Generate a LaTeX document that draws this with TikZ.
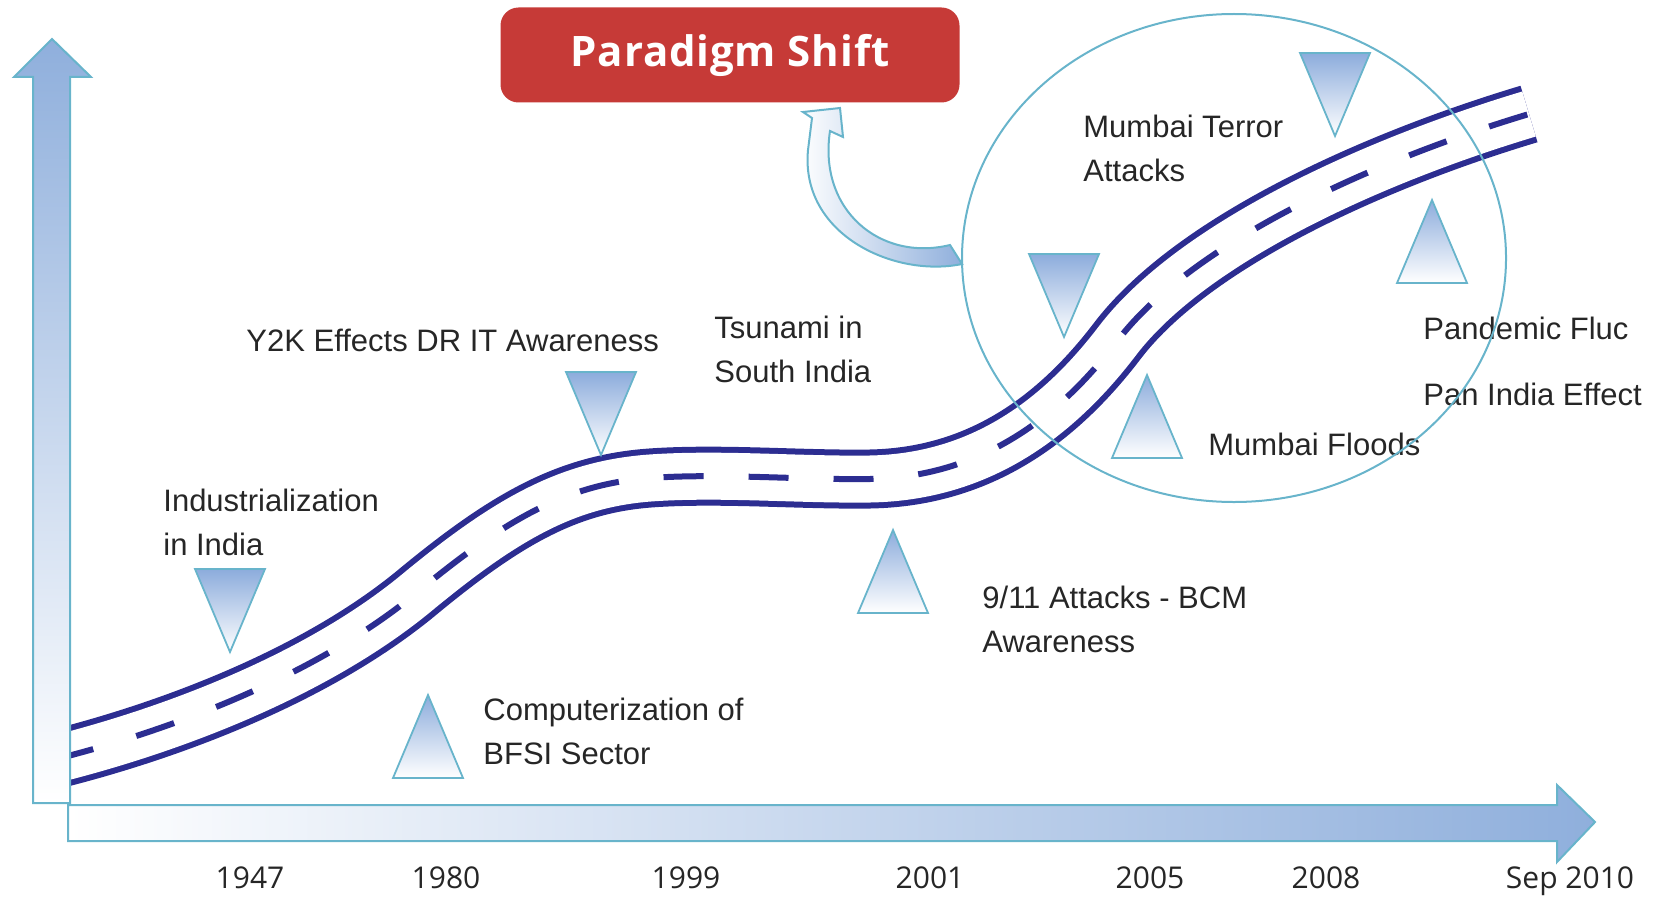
\documentclass[tikz,border=0pt]{standalone}
\usepackage{fontspec}
\setmainfont{Liberation Sans}
\newfontfamily\yearfont{Open Sans}
\newfontfamily\titlefont[LetterSpace=2]{Open Sans}
\usetikzlibrary{shapes.geometric}
\definecolor{roadblue}{RGB}{44,45,145}
\definecolor{axisblue}{RGB}{143,175,220}
\definecolor{tealline}{RGB}{104,180,203}
\definecolor{markblue}{RGB}{140,172,220}
\definecolor{boxred}{RGB}{198,58,55}
\definecolor{textgray}{RGB}{38,38,38}
\begin{document}
\begin{tikzpicture}[x=0.5pt,y=-0.5pt,
  axis/.style={draw=tealline,line width=1pt},
  marker/.style={draw=tealline,line width=0.9pt,top color=markblue,bottom color=white},
  event/.style={inner sep=0pt,anchor=base west,align=left,text=textgray,
    font=\fontsize{15.5}{22}\selectfont},
  year/.style={inner sep=0pt,anchor=base,text=textgray,
    font=\yearfont\fontsize{15}{18}\selectfont},
  lane/.style={draw=roadblue,line width=3pt,dash pattern=on 20pt off 22.5pt,dash phase=35pt},
  road/.style={draw=roadblue,solid,line width=3pt,double=white,double distance=23.5pt}]
  \useasboundingbox (0,0) rectangle (1657,899);
  % road
  \draw[lane,preaction={road}] (40,763) .. controls (170,732) and (320,674) .. (420,590)
    .. controls (510,516) and (570,484) .. (650,478)
    .. controls (720,473) and (800,480) .. (870,479)
    .. controls (980,477) and (1058,419) .. (1118,340)
    .. controls (1195,240) and (1379,159) .. (1529,114);
  % axes
  \draw[axis,top color=axisblue,bottom color=white] (33,803) -- (33,77) -- (14,77)
    -- (52,39) -- (91,77) -- (70,77) -- (70,803) -- cycle;
  \draw[axis,left color=white,right color=axisblue] (68,805) -- (1557,805) -- (1557,785)
    -- (1595,822) -- (1557,862) -- (1557,841) -- (68,841) -- cycle;
  % markers
  \foreach \x/\y in {230/569,601/372,1064/254,1335/53}
    \draw[marker] (\x-35,\y) -- (\x+35,\y) -- (\x,\y+83) -- cycle;
  \foreach \x/\y in {428/695,893/530,1147/375,1432/200}
    \draw[marker] (\x,\y) -- (\x+35,\y+83) -- (\x-35,\y+83) -- cycle;
  % events (base = last line)
  \node[event] (industry) at (163,555) {Industrialization\\in India};
  \node[event] (ytwok) at (246,351) {Y2K Effects DR IT Awareness};
  \node[event] (computer) at (483,764) {Computerization of\\BFSI Sector};
  \node[event] (tsunami) at (714,382) {Tsunami in\\South India};
  \node[event] (wtc) at (982,652) {9/11 Attacks - BCM\\Awareness};
  \node[event] (terror) at (1083,181) {Mumbai Terror\\Attacks};
  \node[event] (floods) at (1208,455) {Mumbai Floods};
  \node[event] (pandemic) at (1423,339) {Pandemic Fluc};
  \node[event] (panindia) at (1423,405) {Pan India Effect};
  % years
  \node[year] (y1947) at (250,888) {1947};
  \node[year] (y1980) at (446,888) {1980};
  \node[year] (y1999) at (686,888) {1999};
  \node[year] (y2001) at (930,888) {2001};
  \node[year] (y2005) at (1150,888) {2005};
  \node[year] (y2008) at (1326,888) {2008};
  \node[year] (y2010) at (1570,888) {Sep 2010};
  % paradigm shift
  \node[fill=boxred,rounded corners=9pt,minimum width=229.5pt,minimum height=47.5pt,
    text=white,font=\titlefont\bfseries\fontsize{21}{24}\selectfont] (shift)
    at (730,55) {Paradigm Shift};
  \draw[axis,left color=white,right color=axisblue] (962,264)
    .. controls (895,278) and (800,235) .. (808,150) -- (812,118) -- (803,112)
    -- (840,108) -- (843,137) -- (830,131)
    .. controls (818,210) and (880,262) .. (950,245) -- cycle;
  \node[ellipse,draw=tealline,line width=1pt,minimum width=272pt,minimum height=244pt,
    inner sep=0pt] (focus) at (1234,258) {};
\end{tikzpicture}
\end{document}
